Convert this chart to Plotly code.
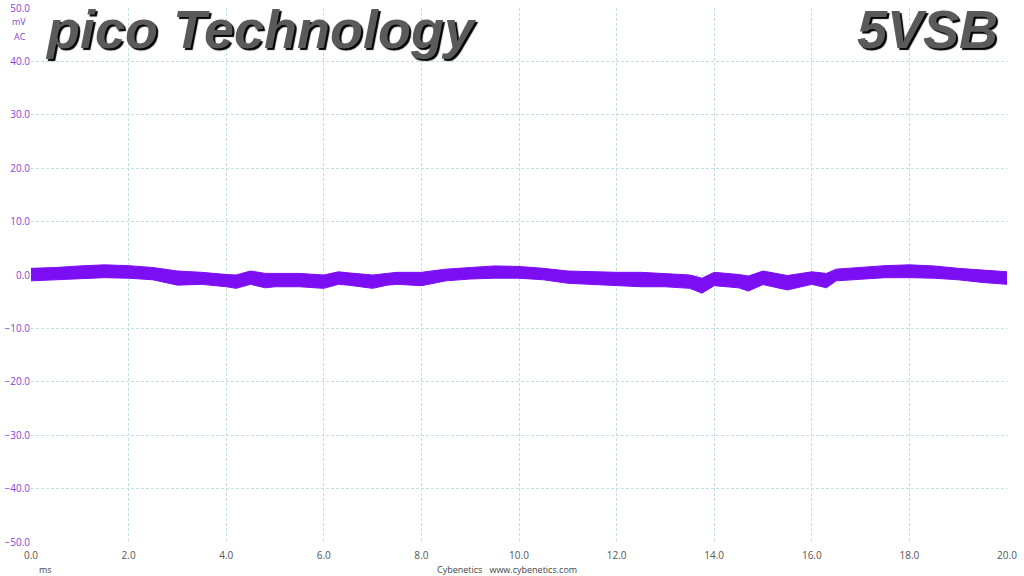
import plotly.graph_objects as go

# Time (ms) and envelope of the ripple trace (mV)
time_ms = [0.0, 0.5, 1.0, 1.5, 2.0, 2.5, 3.0, 3.5, 4.0, 4.2, 4.5, 4.8, 5.0, 5.5,
           6.0, 6.3, 6.5, 7.0, 7.3, 7.5, 8.0, 8.5, 9.0, 9.5, 10.0, 10.5, 11.0,
           11.5, 12.0, 12.5, 13.0, 13.5, 13.75, 14.0, 14.5, 14.7, 15.0, 15.5,
           16.0, 16.3, 16.5, 17.0, 17.5, 18.0, 18.5, 19.0, 19.5, 20.0]
upper_mv = [1.25, 1.4, 1.7, 1.9, 1.75, 1.4, 0.75, 0.5, 0.1, 0.0, 0.75, 0.3, 0.3, 0.3,
            0.0, 0.6, 0.4, 0.0, 0.3, 0.5, 0.5, 1.1, 1.4, 1.7, 1.6, 1.25, 0.75,
            0.6, 0.5, 0.5, 0.3, 0.0, -0.6, 0.5, 0.1, -0.2, 0.75, -0.1,
            0.6, 0.3, 1.1, 1.4, 1.75, 1.9, 1.7, 1.25, 0.9, 0.6]
lower_mv = [-1.1, -0.9, -0.6, -0.5, -0.6, -0.9, -1.9, -1.75, -2.2, -2.5, -1.75, -2.4, -2.2, -2.2,
            -2.5, -1.75, -1.9, -2.5, -1.9, -1.75, -2.0, -1.1, -0.75, -0.6, -0.6, -0.9, -1.55,
            -1.75, -2.0, -2.2, -2.2, -2.5, -3.4, -2.0, -2.4, -3.0, -1.8, -2.8,
            -1.75, -2.4, -1.1, -0.75, -0.5, -0.5, -0.6, -0.9, -1.4, -1.75]

x_ticks = [0, 2, 4, 6, 8, 10, 12, 14, 16, 18, 20]
y_ticks = [-50, -40, -30, -20, -10, 0, 10, 20, 30, 40, 50]

trace_color = "#7b0ef2"
grid_color = "#c4dfe3"
purple_text = "#8a3fd0"

fig = go.Figure()
fig.add_trace(go.Scatter(x=time_ms, y=lower_mv, mode="lines",
                         line=dict(color=trace_color, width=1), hoverinfo="skip",
                         showlegend=False))
fig.add_trace(go.Scatter(x=time_ms, y=upper_mv, mode="lines", fill="tonexty",
                         fillcolor=trace_color,
                         line=dict(color=trace_color, width=1), hoverinfo="skip",
                         showlegend=False))

fig.update_layout(
    width=1024, height=576,
    margin=dict(l=31, r=17, t=8, b=34),
    paper_bgcolor="white", plot_bgcolor="white",
    font=dict(family="Open Sans", size=10),
    xaxis=dict(range=[0, 20], tickvals=x_ticks, tickformat=".1f", automargin=False,
               showgrid=True, gridcolor=grid_color, griddash="3px,2px", gridwidth=1,
               zeroline=False, showline=False, ticks="", ticklabelstandoff=6,
               tickfont=dict(color="#555555", size=10, family="Open Sans")),
    yaxis=dict(range=[-50, 50], tickvals=y_ticks, tickformat=".1f", automargin=False,
               showgrid=True, gridcolor=grid_color, griddash="3px,2px", gridwidth=1,
               zeroline=False, showline=False, ticks="",
               tickfont=dict(color=purple_text, size=10, family="Open Sans")),
)

fig.add_annotation(text="mV", xref="paper", yref="paper", x=-0.003, y=0.975,
                   xanchor="right", yanchor="middle", showarrow=False,
                   font=dict(color=purple_text, size=9, family="Open Sans"))
fig.add_annotation(text="AC", xref="paper", yref="paper", x=-0.003, y=0.947,
                   xanchor="right", yanchor="middle", showarrow=False,
                   font=dict(color=purple_text, size=9, family="Open Sans"))
fig.add_annotation(text="ms", xref="paper", yref="paper", x=0.006, y=-0.052,
                   xanchor="left", yanchor="middle", showarrow=False,
                   font=dict(color="#444444", size=9, family="Open Sans"))
fig.add_annotation(text="Cybenetics   www.cybenetics.com", xref="paper", yref="paper",
                   x=0.488, y=-0.052, xanchor="center", yanchor="middle", showarrow=False,
                   font=dict(color="#444444", size=9, family="Open Sans"))

title_font = dict(family="Liberation Sans", size=54, color="#5a5a5a",
                  weight="bold", style="italic", shadow="2px 2px 1px #000000")
fig.add_annotation(text="pico Technology", xref="paper", yref="paper",
                   x=0.012, y=1.02, xanchor="left", yanchor="top", showarrow=False,
                   font=title_font)
fig.add_annotation(text="5VSB", xref="paper", yref="paper",
                   x=0.993, y=1.02, xanchor="right", yanchor="top", showarrow=False,
                   font=title_font)

fig.write_html("out.html", config={"displayModeBar": False},
               post_script="document.body.style.margin='0';document.body.style.overflow='hidden';")
